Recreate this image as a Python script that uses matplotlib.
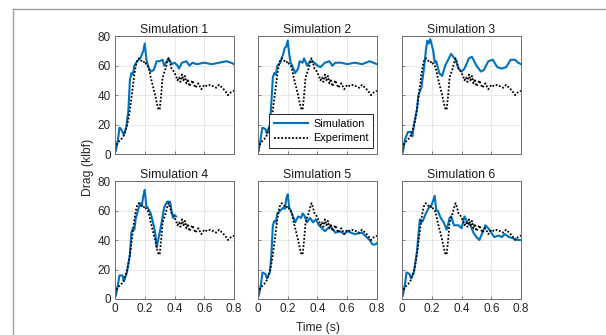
import numpy as np
import matplotlib.pyplot as plt
from matplotlib.lines import Line2D

plt.rcParams['font.family'] = ['Liberation Sans', 'DejaVu Sans']

# experiment (same in every panel)
exp_t = [0.00, 0.01, 0.02, 0.03, 0.04, 0.05, 0.06, 0.07, 0.08, 0.09,
         0.10, 0.11, 0.12, 0.13, 0.14, 0.15, 0.16, 0.17, 0.18, 0.19,
         0.20, 0.21, 0.22, 0.23, 0.24, 0.25, 0.26, 0.27, 0.28, 0.29,
         0.30, 0.31, 0.32, 0.33, 0.34, 0.35, 0.36, 0.37, 0.38, 0.39,
         0.40, 0.41, 0.42, 0.43, 0.44, 0.45, 0.46, 0.47, 0.48, 0.49,
         0.50, 0.52, 0.54, 0.56, 0.58, 0.60, 0.62, 0.64, 0.66, 0.68,
         0.70, 0.72, 0.74, 0.76, 0.78, 0.80]
exp_v = [4, 6, 8, 9, 10, 11, 13, 16, 19, 24,
         30, 38, 46, 54, 60, 64, 65, 64, 63, 62,
         63, 61, 60, 57, 52, 48, 44, 40, 35, 31,
         30, 40, 52, 55, 58, 62, 65, 62, 58, 57,
         55, 53, 50, 52, 49, 54, 50, 53, 48, 51,
         46, 50, 45, 48, 44, 47, 46, 47, 46, 45,
         47, 45, 43, 40, 42, 43]

# simulations
t1 = [0, 0.005, 0.02, 0.03, 0.04, 0.06, 0.075, 0.09, 0.10, 0.11, 0.12, 0.13, 0.15, 0.17,
      0.19, 0.20, 0.21, 0.22, 0.24, 0.26, 0.28, 0.30, 0.32, 0.33, 0.36, 0.38, 0.40, 0.42,
      0.43, 0.45, 0.48, 0.50, 0.52, 0.55, 0.60, 0.65, 0.70, 0.75, 0.78, 0.80]
v1 = [8, 2, 10, 18, 17, 13, 18, 30, 50, 55, 54, 60, 63, 65,
      70, 75, 65, 60, 56, 57, 63, 63, 64, 60, 65, 61, 62, 60,
      58, 62, 63, 60, 62, 61, 62, 61, 62, 63, 62, 61]

t2 = [0, 0.005, 0.02, 0.03, 0.05, 0.06, 0.08, 0.09, 0.10, 0.11, 0.12, 0.13, 0.15, 0.17,
      0.18, 0.19, 0.20, 0.21, 0.22, 0.23, 0.25, 0.27, 0.28, 0.30, 0.31, 0.33, 0.35, 0.38,
      0.40, 0.42, 0.45, 0.48, 0.50, 0.52, 0.56, 0.60, 0.65, 0.70, 0.75, 0.80]
v2 = [8, 2, 12, 18, 17, 14, 20, 35, 52, 55, 54, 60, 62, 68,
      72, 73, 77, 68, 62, 60, 55, 58, 63, 62, 65, 60, 63, 62,
      60, 59, 62, 63, 60, 62, 62, 61, 62, 61, 63, 61]

t3 = [0, 0.005, 0.02, 0.04, 0.06, 0.07, 0.08, 0.10, 0.11, 0.13, 0.15, 0.16, 0.17, 0.18,
      0.19, 0.21, 0.22, 0.23, 0.25, 0.27, 0.29, 0.33, 0.36, 0.38, 0.40, 0.42, 0.45, 0.47,
      0.50, 0.53, 0.55, 0.58, 0.61, 0.64, 0.67, 0.70, 0.73, 0.76, 0.78, 0.80]
v3 = [8, 1, 10, 15, 15, 12, 20, 30, 40, 45, 60, 70, 77, 75,
      78, 70, 62, 63, 55, 53, 60, 68, 64, 58, 56, 58, 65, 66,
      60, 56, 57, 63, 64, 59, 58, 59, 64, 64, 62, 61]

t4 = [0, 0.005, 0.02, 0.03, 0.05, 0.06, 0.08, 0.10, 0.11, 0.12, 0.13, 0.14, 0.16, 0.17,
      0.18, 0.19, 0.20, 0.21, 0.22, 0.24, 0.26, 0.27, 0.28, 0.29, 0.31, 0.33, 0.35, 0.37,
      0.38, 0.39, 0.40, 0.41]
v4 = [8, 2, 10, 16, 16, 12, 18, 30, 45, 48, 47, 55, 62, 65,
      63, 70, 74, 63, 62, 58, 50, 45, 35, 40, 50, 62, 66, 66,
      60, 55, 57, 56]

t5 = [0, 0.005, 0.02, 0.03, 0.05, 0.06, 0.08, 0.09, 0.10, 0.11, 0.12, 0.13, 0.15, 0.17,
      0.18, 0.19, 0.20, 0.21, 0.22, 0.24, 0.25, 0.27, 0.29, 0.30, 0.31, 0.33, 0.35, 0.37,
      0.39, 0.41, 0.43, 0.45, 0.47, 0.49, 0.52, 0.55, 0.58, 0.60, 0.65, 0.70, 0.72, 0.75,
      0.77, 0.79, 0.80]
v5 = [8, 2, 10, 18, 17, 14, 18, 30, 50, 53, 52, 58, 60, 62,
      61, 68, 71, 62, 60, 55, 52, 56, 55, 58, 57, 52, 55, 52,
      54, 50, 48, 46, 48, 49, 45, 46, 44, 46, 44, 45, 43, 40,
      37, 37, 38]

t6 = [0, 0.005, 0.02, 0.03, 0.05, 0.06, 0.08, 0.10, 0.12, 0.13, 0.14, 0.16, 0.18, 0.20,
      0.22, 0.23, 0.24, 0.26, 0.28, 0.30, 0.32, 0.33, 0.35, 0.38, 0.40, 0.42, 0.44, 0.46,
      0.48, 0.50, 0.52, 0.54, 0.56, 0.58, 0.60, 0.62, 0.65, 0.67, 0.69, 0.72, 0.75, 0.78,
      0.80]
v6 = [8, 2, 10, 18, 17, 14, 18, 32, 54, 52, 53, 58, 62, 64,
      70, 60, 60, 55, 52, 47, 55, 56, 50, 50, 48, 56, 52, 50,
      45, 42, 40, 45, 50, 48, 45, 42, 43, 42, 44, 42, 41, 40,
      40]

sims = [(t1, v1), (t2, v2), (t3, v3), (t4, v4), (t5, v5), (t6, v6)]
titles = ['Simulation 1', 'Simulation 2', 'Simulation 3',
          'Simulation 4', 'Simulation 5', 'Simulation 6']
xticks = [0, 0.2, 0.4, 0.6, 0.8]
yticks = [0, 20, 40, 60, 80]

blue = '#0072BD'
fig = plt.figure(figsize=(6.06, 3.35), dpi=100)

lefts = [0.1898, 0.4257, 0.6634]
bottoms = [0.540, 0.1075]
w, h = 0.1964, 0.352

for i, (t, v) in enumerate(sims):
    r, c = divmod(i, 3)
    ax = fig.add_axes([lefts[c], bottoms[r], w, h])
    ax.plot(t, v, color=blue, lw=1.5, label='Simulation')
    ax.plot(exp_t, exp_v, color='black', lw=1.3, ls=(0, (1, 1)), label='Experiment')
    ax.set_xlim(0, 0.8)
    ax.set_ylim(0, 80)
    ax.set_xticks(xticks)
    ax.set_yticks(yticks)
    ax.set_xticklabels(['0', '0.2', '0.4', '0.6', '0.8'] if r == 1 else [])
    if c != 0:
        ax.set_yticklabels([])
    ax.grid(True, color='#e3e3e3', lw=0.6)
    ax.set_axisbelow(True)
    ax.tick_params(direction='in', length=2, width=0.6, labelsize=8.5,
                   colors='#6e6e6e', labelcolor='#262626', pad=3)
    for s in ax.spines.values():
        s.set_color('#6e6e6e')
        s.set_linewidth(0.7)
    ax.set_title(titles[i], fontsize=8.8, pad=2.5, color='#1a1a1a')
    if i == 1:
        leg = ax.legend(loc='lower right', bbox_to_anchor=(0.97, 0.05), fontsize=7.8,
                        handlelength=3.2, fancybox=False, framealpha=1,
                        edgecolor='#262626', borderpad=0.45, labelspacing=0.4,
                        handletextpad=0.45, borderaxespad=0)
        leg.get_frame().set_linewidth(0.7)

fig.text(0.145, 0.5, 'Drag (klbf)', rotation=90, ha='center', va='center',
         fontsize=8.7, color='#262626')
fig.text(0.525, 0.021, 'Time (s)', ha='center', va='center', fontsize=8.7, color='#262626')

# outer frame lines
fig.add_artist(Line2D([0.0215, 0.0215], [0, 0.973], color='#a0a0a0', lw=1))
fig.add_artist(Line2D([0.0215, 1], [0.973, 0.973], color='#a0a0a0', lw=1))

fig.savefig('out.png', dpi=100)
